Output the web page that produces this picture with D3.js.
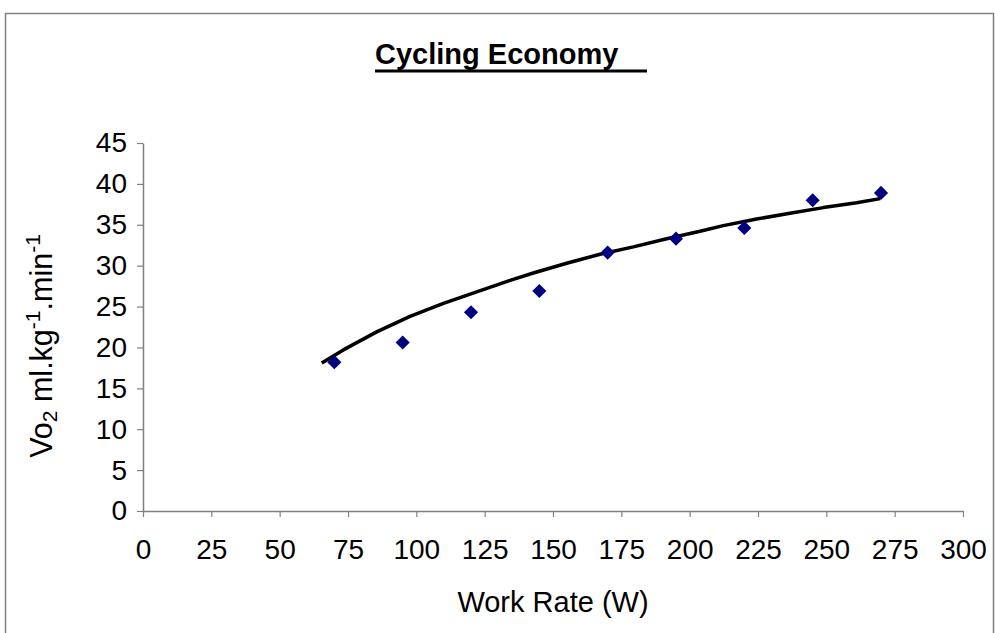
<!DOCTYPE html>
<html>
<head>
<meta charset="utf-8">
<script src="https://cdn.jsdelivr.net/npm/d3@7"></script>
<style>
  html, body { margin: 0; padding: 0; background: #fff; }
  svg { display: block; font-family: "Liberation Sans", Arial, sans-serif; }
</style>
</head>
<body>
<svg id="chart" width="995" height="633"></svg>
<script>
// ---- data ----
const title = "Cycling Economy";
const xLabel = "Work Rate (W)";
const workRate = [70, 95, 120, 145, 170, 195, 220, 245, 270];
const vo2 = [18.2, 20.6, 24.3, 26.9, 31.6, 33.3, 34.6, 38.0, 38.9];
// trend line
const trendX = [65.4, 73.3, 85.5, 97.7, 109.9, 122.1, 134.3, 142.8, 155.0, 167.2, 179.4, 191.6, 203.8, 212.3, 224.5, 236.7, 248.9, 261.1, 269.7];
const trendY = [18.1, 19.7, 21.9, 23.8, 25.4, 26.8, 28.2, 29.1, 30.3, 31.4, 32.3, 33.3, 34.2, 34.9, 35.7, 36.4, 37.1, 37.7, 38.2];
const xTicks = [0, 25, 50, 75, 100, 125, 150, 175, 200, 225, 250, 275, 300];
const yTicks = [0, 5, 10, 15, 20, 25, 30, 35, 40, 45];

// ---- layout ----
const svg = d3.select("#chart");
const plotL = 143, plotR = 963, plotT = 143, plotB = 511;

svg.append("rect")
  .attr("x", 5.5).attr("y", 13.5)
  .attr("width", 988).attr("height", 660)
  .attr("fill", "none").attr("stroke", "#808080").attr("stroke-width", 1.5);

const x = d3.scaleLinear().domain([0, 300]).range([plotL, plotR]);
const y = d3.scaleLinear().domain([0, 45]).range([plotB, plotT]);

// title
svg.append("text")
  .attr("x", 375).attr("y", 64)
  .attr("font-size", 29).attr("font-weight", "bold")
  .attr("fill", "#000")
  .text(title);
svg.append("line")
  .attr("x1", 375).attr("x2", 647)
  .attr("y1", 71).attr("y2", 71)
  .attr("stroke", "#000").attr("stroke-width", 3);

// axes
const xAxis = d3.axisBottom(x).tickValues(xTicks).tickSize(6).tickPadding(22).tickSizeOuter(0);
const yAxis = d3.axisLeft(y).tickValues(yTicks).tickSize(6).tickPadding(10).tickSizeOuter(0);

const gx = svg.append("g").attr("transform", `translate(0,${plotB})`).call(xAxis);
const gy = svg.append("g").attr("transform", `translate(${plotL},0)`).call(yAxis);
[gx, gy].forEach(g => {
  g.selectAll("path.domain").attr("stroke", "#808080").attr("stroke-width", 1.5);
  g.selectAll(".tick line").attr("stroke", "#808080").attr("stroke-width", 1.2);
  g.selectAll(".tick text").attr("font-size", 28).attr("fill", "#000")
    .attr("font-family", "'Liberation Sans', Arial, sans-serif");
});

// axis titles
svg.append("text")
  .attr("x", 553).attr("y", 612)
  .attr("text-anchor", "middle")
  .attr("font-size", 29).attr("fill", "#000")
  .text(xLabel);

const yl = svg.append("text")
  .attr("transform", "translate(52,346) rotate(-90)")
  .attr("text-anchor", "middle")
  .attr("font-size", 30.5).attr("fill", "#000");
yl.append("tspan").text("Vo");
yl.append("tspan").attr("font-size", 21).attr("dy", 5).text("2");
yl.append("tspan").attr("dy", -5).text(" ml.kg");
yl.append("tspan").attr("font-size", 21).attr("dy", -12).text("-1");
yl.append("tspan").attr("dy", 12).text(".min");
yl.append("tspan").attr("font-size", 21).attr("dy", -12).text("-1");

// trend line
const trend = trendX.map((v, i) => [v, trendY[i]]);
svg.append("path")
  .datum(trend)
  .attr("fill", "none").attr("stroke", "#000").attr("stroke-width", 3.5)
  .attr("stroke-linejoin", "round")
  .attr("d", d3.line().x(d => x(d[0])).y(d => y(d[1])));

// points
svg.selectAll("path.pt")
  .data(workRate.map((v, i) => [v, vo2[i]]))
  .join("path")
  .attr("class", "pt")
  .attr("transform", d => `translate(${x(d[0])},${y(d[1])}) rotate(45)`)
  .attr("d", d3.symbol().type(d3.symbolSquare).size(100))
  .attr("fill", "#000080");
</script>
</body>
</html>
